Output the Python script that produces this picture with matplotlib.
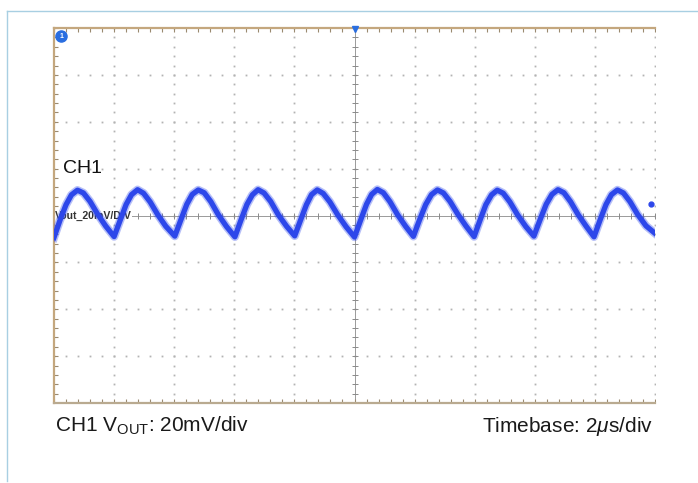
import numpy as np
import matplotlib
matplotlib.use("Agg")
import matplotlib.pyplot as plt

plt.rcParams["font.family"] = ["Liberation Sans", "DejaVu Sans"]
plt.rcParams["mathtext.fontset"] = "custom"
plt.rcParams["mathtext.rm"] = "Liberation Sans"
plt.rcParams["mathtext.it"] = "Liberation Sans:italic"

# Output ripple trace: time in microseconds, voltage in mV (AC, about screen center)
t_us = [
    0.00, 0.20, 0.40, 0.58, 0.78, 0.98, 1.20, 1.45, 1.72,
    2.00, 2.20, 2.40, 2.58, 2.78, 2.98, 3.20, 3.45, 3.72,
    4.02, 4.22, 4.42, 4.60, 4.80, 5.00, 5.22, 5.46, 5.74,
    6.02, 6.22, 6.42, 6.60, 6.79, 6.99, 7.21, 7.46, 7.74,
    8.01, 8.21, 8.40, 8.57, 8.76, 8.96, 9.18, 9.44, 9.72,
    10.00, 10.20, 10.40, 10.57, 10.76, 10.96, 11.18, 11.43, 11.70,
    11.96, 12.16, 12.37, 12.56, 12.76, 12.96, 13.18, 13.44, 13.71,
    13.98, 14.18, 14.37, 14.56, 14.75, 14.95, 15.17, 15.42, 15.70,
    15.97, 16.17, 16.38, 16.57, 16.77, 16.97, 17.19, 17.44, 17.71,
    17.97, 18.17, 18.37, 18.55, 18.75, 18.95, 19.17, 19.42, 19.70,
    20.00,
]
v_mv = [
    -9.4, -2.0, 4.6, 8.8, 10.8, 9.6, 6.0, 0.6, -4.5,
    -9.0, -2.1, 4.7, 8.9, 11.0, 9.5, 5.8, 0.4, -4.6,
    -8.8, -1.9, 4.8, 9.0, 10.9, 9.7, 5.9, 0.5, -4.7,
    -9.1, -2.0, 4.7, 8.8, 11.0, 9.6, 6.0, 0.4, -4.6,
    -8.7, -1.8, 4.6, 8.9, 10.9, 9.4, 5.8, 0.3, -4.8,
    -9.2, -2.1, 4.8, 9.0, 11.1, 9.7, 5.9, 0.4, -4.6,
    -8.9, -2.0, 4.7, 8.9, 10.9, 9.6, 6.0, 0.5, -4.5,
    -9.0, -1.9, 4.6, 8.8, 10.8, 9.5, 5.8, 0.4, -4.7,
    -8.8, -2.0, 4.8, 9.0, 11.0, 9.7, 5.9, 0.4, -4.6,
    -9.1, -2.0, 4.7, 8.9, 10.9, 9.6, 5.9, 0.5, -4.4,
    -7.6,
]

x_divs = 10
y_divs = 8
us_per_div = 2.0
mv_per_div = 20.0

trace_color = "#2d47ea"
frame_color = "#c4a77e"
grid_color = "#b3b3b3"

fig = plt.figure(figsize=(6.98, 4.83), dpi=100)
fig.patch.set_facecolor("white")

# light outer page frame
fig.add_artist(plt.Line2D([7.5 / 698, 1.0], [1 - 11 / 483, 1 - 11 / 483],
                          transform=fig.transFigure, color="#a8cfe2", lw=1.0))
fig.add_artist(plt.Line2D([7.5 / 698, 7.5 / 698], [1 - 11 / 483, 1 - 481 / 483],
                          transform=fig.transFigure, color="#a8cfe2", lw=1.0))

ax = fig.add_axes([54 / 698, 1 - 403 / 483, 601 / 698, 375 / 483])
xmax = x_divs * us_per_div
ymax = y_divs / 2 * mv_per_div
ax.set_xlim(0, xmax)
ax.set_ylim(-ymax, ymax)
ax.set_xticks([])
ax.set_yticks([])
for side in ["left", "top", "bottom"]:
    ax.spines[side].set_color(frame_color)
    ax.spines[side].set_linewidth(1.6)
ax.spines["bottom"].set_color("#b9aa90")
ax.spines["right"].set_visible(False)

# graticule dots at every minor division along the major lines
minor_x = np.arange(0, xmax + 1e-9, us_per_div / 5)
minor_y = np.arange(-ymax, ymax + 1e-9, mv_per_div / 5)
for k in range(1, x_divs + 1):
    gx = k * us_per_div
    if abs(gx - xmax / 2) < 1e-9:
        continue
    ax.plot(np.full_like(minor_y, gx), minor_y, ls="none", marker="s",
            ms=1.3, mew=0, color=grid_color, zorder=1)
for k in range(1, y_divs):
    gy = -ymax + k * mv_per_div
    if abs(gy) < 1e-9:
        continue
    ax.plot(minor_x, np.full_like(minor_x, gy), ls="none", marker="s",
            ms=1.3, mew=0, color=grid_color, zorder=1)

# center crosshair with minor ticks
ax.axhline(0, color="#9a9a9a", lw=0.7, zorder=1)
ax.axvline(xmax / 2, color="#9a9a9a", lw=0.7, zorder=1)
ax.plot(minor_x, np.zeros_like(minor_x), ls="none", marker="|", ms=5,
        mew=0.7, color="#8a8a8a", zorder=1)
ax.plot(np.full_like(minor_y, xmax / 2), minor_y, ls="none", marker="_", ms=5,
        mew=0.7, color="#8a8a8a", zorder=1)

# inward ticks on the frame edges
ax.plot(np.zeros_like(minor_y), minor_y, ls="none", marker="_", ms=6,
        mew=0.8, color="#9a8a70", zorder=2)
ax.plot(minor_x, np.full_like(minor_x, -ymax), ls="none", marker="|", ms=6,
        mew=0.8, color="#9a8a70", zorder=2)
ax.plot(minor_x, np.full_like(minor_x, ymax), ls="none", marker="|", ms=6,
        mew=0.8, color="#9a8a70", zorder=2)

# channel label on the center line, beneath the trace
ax.text(0.04, 0.0, "Vout_20mV/DIV", fontsize=7.6, fontweight="bold",
        color="#333333", ha="left", va="center", zorder=2.5,
        bbox=dict(facecolor="white", edgecolor="none", pad=0.2))

# the ripple trace (soft halo + core)
ax.plot(t_us, v_mv, color=trace_color, lw=6.0, alpha=0.35, zorder=3,
        solid_joinstyle="round")
ax.plot(t_us, v_mv, color=trace_color, lw=3.8, zorder=4,
        solid_joinstyle="round")

ax.text(0.3, 18.0, "CH1", fontsize=14, color="#111111", ha="left",
        va="baseline", zorder=5)

# scope markers: channel tag, trigger position, trigger level
ax.plot([0.22], [76.5], ls="none", marker="o", ms=8, color="#2a6ee0",
        clip_on=False, zorder=6)
ax.text(0.24, 76.5, "1", fontsize=5, color="white", fontweight="bold",
        ha="center", va="center", zorder=7)
ax.plot([xmax / 2], [ymax - 0.5], ls="none", marker="v", ms=5,
        color="#2a6ee0", clip_on=False, zorder=6)
ax.plot([19.87], [4.8], ls="none", marker="o", ms=3.5, color=trace_color,
        zorder=6)

fig.text(55 / 698, 1 - 432 / 483, r"CH1 V$_{\mathrm{OUT}}$: 20mV/div",
         fontsize=15, color="#1a1a1a", ha="left", va="baseline")
fig.text(653 / 698, 1 - 432 / 483, r"Timebase: 2$\mathit{\mu}$s/div",
         fontsize=15, color="#1a1a1a", ha="right", va="baseline")

fig.savefig("out.png", dpi=100, facecolor="white")
